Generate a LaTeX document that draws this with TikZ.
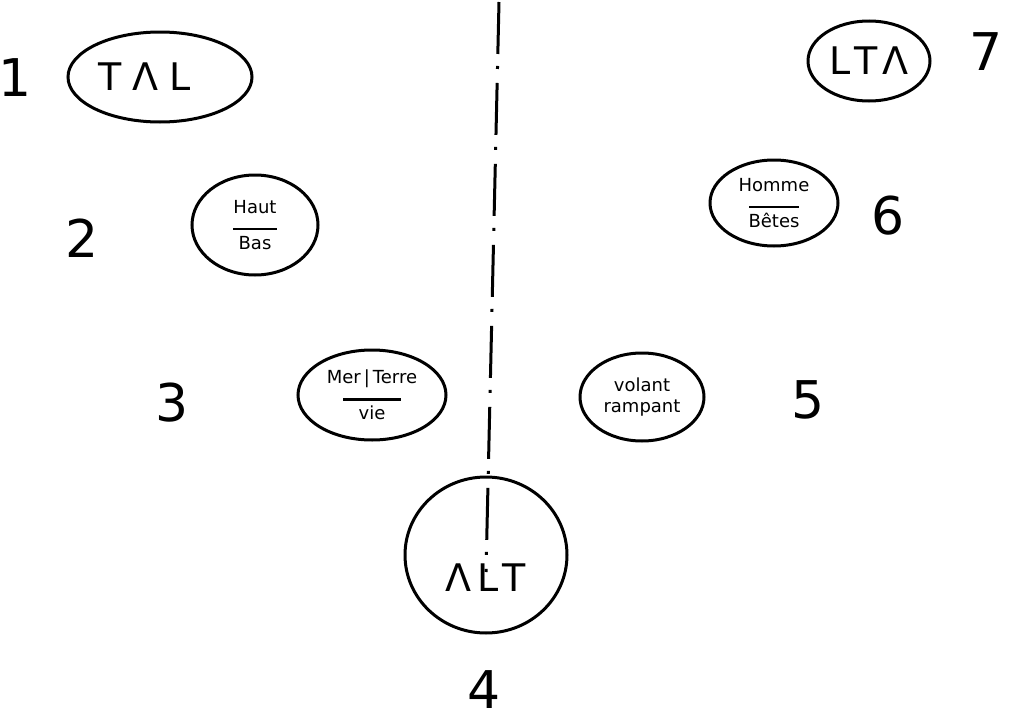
\documentclass[tikz,border=0pt]{standalone}
\usepackage{fontspec}
\setmainfont{DejaVu Sans}
\usetikzlibrary{shapes.geometric}
\begin{document}
\begin{tikzpicture}[x=1pt,y=-1pt,
  oval/.style={draw,ellipse,line width=3pt,inner sep=0pt},
  num/.style={font=\fontsize{52}{56}\selectfont},
  big/.style={font=\fontsize{38}{42}\selectfont},
  small/.style={font=\fontsize{18}{21}\selectfont,align=center},
  axisline/.style={line width=3pt,dash pattern=on 52pt off 12pt on 3pt off 14pt}]
\useasboundingbox[fill=white] (0,0) rectangle (1013,728);
% axis
\coordinate (top) at (499,2);
\coordinate (bot) at (486,572);
\draw[axisline] (top) -- (bot);
% ellipses
\node[oval,minimum width=184pt,minimum height=90pt,big] (e1) at (160,77) {\hspace{-30pt}T\hspace{10pt}Λ\hspace{12pt}L};
\node[oval,minimum width=126pt,minimum height=100pt,small] (e2) at (255,225)
  {Haut\\[-4pt]\rule{44pt}{2.4pt}\\[-2pt]Bas};
\node[oval,minimum width=148pt,minimum height=90pt,small] (e3) at (372,395)
  {Mer\,|\,Terre\\[-4pt]\rule{58pt}{2.4pt}\\[-2pt]vie};
\node[oval,minimum width=162pt,minimum height=156pt,big] (e4) at (486,555) {\raisebox{-36pt}[0pt][0pt]{Λ\hspace{6pt}L\hspace{4pt}T}};
\node[oval,minimum width=124pt,minimum height=88pt,small] (e5) at (642,397)
  {volant\\rampant};
\node[oval,minimum width=128pt,minimum height=86pt,small] (e6) at (774,203)
  {Homme\\[-4pt]\rule{50pt}{2.4pt}\\[-2pt]Bêtes};
\node[oval,minimum width=122pt,minimum height=80pt,big] (e7) at (869,61) {L\hspace{4pt}T\hspace{4pt}Λ};
% numbers
\node[num] (n1) at (15,78) {1};
\node[num] (n2) at (82,238) {2};
\node[num] (n3) at (172,403) {3};
\node[num] (n4) at (484,690) {4};
\node[num] (n5) at (808,400) {5};
\node[num] (n6) at (888,216) {6};
\node[num] (n7) at (986,52) {7};
\end{tikzpicture}
\end{document}
